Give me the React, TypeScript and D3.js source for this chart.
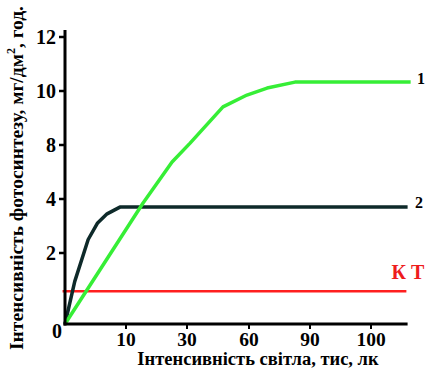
import React from "react";
import * as d3 from "d3";

// Axis tick values (equally spaced on the chart, non-uniform in value)
const xTickValues = [0, 10, 30, 60, 90, 100];
const yTickValues = [0, 2, 4, 8, 10, 12];
const xMax = 106;

// Series 1 (green)
const series1X = [0, 15.6, 25.1, 31.5, 47.4, 59, 68.9, 82.6, 106.5];
const series1Y = [0, 3.85, 6.74, 8.07, 9.41, 9.85, 10.11, 10.33, 10.33];

// Series 2 (dark)
const series2X = [0, 1.6, 3.8, 5.3, 6.9, 9.0, 106];
const series2Y = [0, 1.2, 2.5, 3.1, 3.45, 3.70, 3.70];

// Compensation point (КТ)
const ktValue = 0.92;
const ktRange = [-0.4, 105.8];

const W = 434;
const H = 369;

export default function App() {
  const x = d3
    .scaleLinear()
    .domain(xTickValues)
    .range([65, 126, 187, 249, 310, 371]);
  const y = d3
    .scaleLinear()
    .domain(yTickValues)
    .range([324, 253, 199, 145, 91, 37]);

  const line = d3
    .line<[number, number]>()
    .x((d) => x(d[0]))
    .y((d) => y(d[1]))
    .curve(d3.curveLinear);

  const s1 = series1X.map((v, i) => [v, series1Y[i]] as [number, number]);
  const s2 = series2X.map((v, i) => [v, series2Y[i]] as [number, number]);

  const font = "Liberation Serif";

  return (
    <svg
      width={W}
      height={H}
      style={{ position: "absolute", left: 0, top: 0, background: "#fff" }}
      fontFamily={font}
      fontWeight="bold"
    >
      {/* KT line */}
      <line
        x1={x(ktRange[0])}
        x2={x(ktRange[1])}
        y1={y(ktValue)}
        y2={y(ktValue)}
        stroke="#ff1f1f"
        strokeWidth={2.5}
      />
      {/* series 2 */}
      <path d={line(s2) || ""} fill="none" stroke="#0e2a2a" strokeWidth={3.5} strokeLinejoin="round" />
      {/* series 1 */}
      <path d={line(s1) || ""} fill="none" stroke="#36ee36" strokeWidth={3.5} strokeLinejoin="round" />

      {/* axes */}
      <line x1={x(0)} x2={x(0)} y1={30} y2={y(0) + 1.5} stroke="#000" strokeWidth={3} />
      <line x1={x(0) - 1.5} x2={x(xMax)} y1={y(0)} y2={y(0)} stroke="#000" strokeWidth={3} />

      {yTickValues
        .filter((v) => v !== 0)
        .map((v) => (
          <g key={"y" + v}>
            <line x1={x(0) - 6} x2={x(0)} y1={y(v)} y2={y(v)} stroke="#000" strokeWidth={2.5} />
            <text x={x(0) - 9} y={y(v) + 7} textAnchor="end" fontSize={20}>
              {v}
            </text>
          </g>
        ))}
      <text x={x(0) - 3} y={338} textAnchor="end" fontSize={20}>
        0
      </text>

      {xTickValues
        .filter((v) => v !== 0)
        .map((v) => (
          <g key={"x" + v}>
            <line x1={x(v)} x2={x(v)} y1={y(0)} y2={y(0) + 5} stroke="#000" strokeWidth={2} />
            <text x={x(v)} y={346} textAnchor="middle" fontSize={19.5}>
              {v}
            </text>
          </g>
        ))}

      {/* axis titles */}
      <text x={258} y={365} textAnchor="middle" fontSize={18.5}>
        Інтенсивність світла, тис, лк
      </text>
      <text
        transform={`translate(23, 178) rotate(-90)`}
        textAnchor="middle"
        fontSize={19.5}
      >
        Інтенсивність фотосинтезу, мг/дм
        <tspan dy={-8} fontSize={12}>2</tspan>
        <tspan dy={8}>, год.</tspan>
      </text>

      {/* series labels */}
      <text x={417} y={84} fontSize={16}>1</text>
      <text x={415} y={208} fontSize={16}>2</text>
      <text x={408} y={279} textAnchor="middle" fontSize={20} fill="#ee1c1c">
        К Т
      </text>
    </svg>
  );
}
